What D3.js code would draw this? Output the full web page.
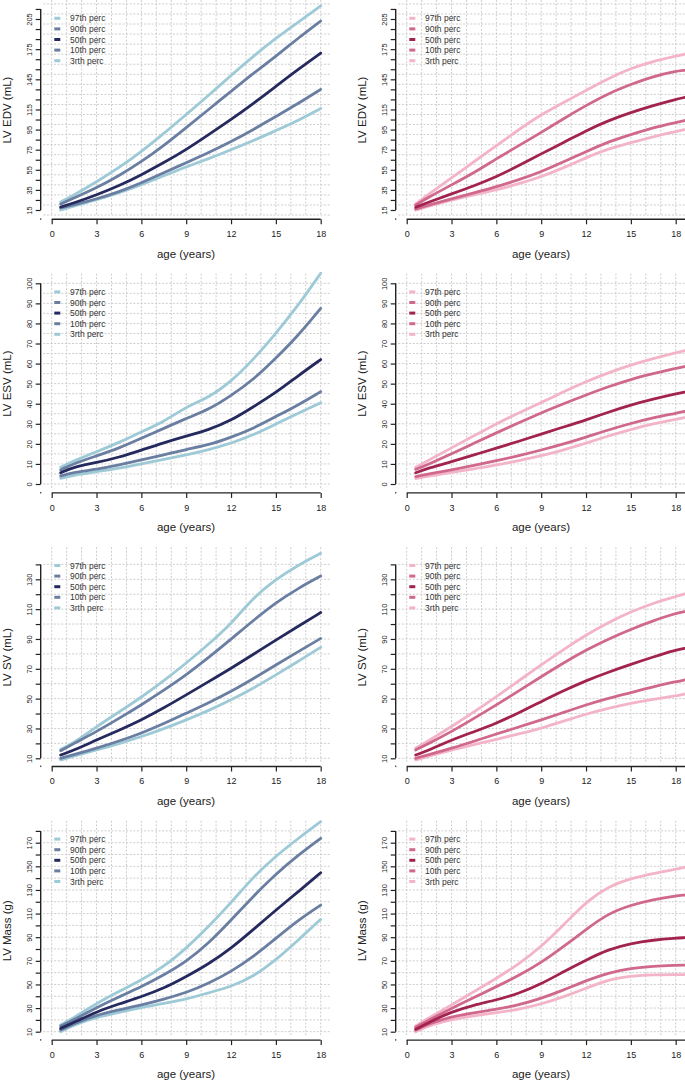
<!DOCTYPE html>
<html><head><meta charset="utf-8">
<script src="https://cdn.jsdelivr.net/npm/d3@7"></script>
<style>
html,body{margin:0;padding:0;background:#fff;}
svg{display:block;font-family:"Liberation Sans",Arial,Helvetica,sans-serif;}
</style></head>
<body>
<script>
// ---------------- DATA ----------------
const percLabels = ["97th perc", "90th perc", "50th perc", "10th perc", "3rth perc"];
const maleColors = ["#9dcad6", "#6a7ea2", "#252a5e", "#6a7ea2", "#9dcad6"];
const femaleColors = ["#f2b4c6", "#d0688e", "#a2234f", "#d0688e", "#f2b4c6"];

const agesM = [0.6, 1.5, 3, 4.5, 6, 7.5, 9, 10.5, 12, 13.5, 15, 16.5, 18];
const agesF = [0.6, 1.5, 3, 4.5, 6, 7.5, 9, 10.5, 12, 13.5, 15, 16.5, 18, 18.6];

// LV EDV (mL)
const edvM = [
  [23, 30, 43, 57, 73, 91, 110, 129, 149, 168, 186, 202, 218],
  [21, 27, 37, 49, 63, 79, 97, 115, 133, 151, 168, 186, 203],
  [18, 22, 30, 39, 50, 62, 75, 90, 105, 121, 138, 155, 171],
  [17, 20, 26, 33, 42, 52, 62, 72, 83, 95, 108, 121, 135],
  [15, 19, 25, 32, 40, 49, 58, 66, 75, 84, 94, 104, 116]
];
const edvF = [
  [21, 31, 47, 63, 79, 95, 110, 122, 134, 146, 156, 163, 168, 170],
  [20, 28, 40, 52, 66, 79, 92, 106, 119, 131, 140, 148, 153, 154],
  [17.7, 23, 31, 39, 48, 59, 71, 82, 94, 104, 112, 119, 125, 127],
  [16, 20, 26, 32, 38, 45, 53, 63, 73, 83, 90, 97, 102, 104],
  [15, 19, 25, 30, 35, 41, 48, 57, 67, 76, 82, 88, 93, 95]
];
// LV ESV (mL)
const esvM = [
  [8.3, 11.6, 16.1, 20.6, 26, 31, 38.5, 43, 51, 62, 75, 89, 105],
  [7, 10.3, 14, 17.8, 22.8, 27.7, 32.7, 37, 44, 52, 62.6, 74, 87.5],
  [5.6, 8.6, 10.6, 13.3, 16.9, 20.6, 23.9, 27, 31.6, 38.5, 45.5, 54, 62],
  [4, 5.8, 7.3, 9.5, 12, 14.5, 17.3, 19.4, 23.3, 27.7, 33.6, 39.4, 46],
  [2.8, 4.5, 6.1, 7.8, 10, 12.3, 14.5, 17, 20.3, 24.4, 29.9, 35.2, 40.5]
];
const esvF = [
  [8.3, 12, 18, 24, 30, 35.5, 40.5, 46, 51, 55.5, 59.3, 62.5, 65.4, 66.4],
  [7.3, 10, 15, 20.3, 25.5, 30.5, 35.5, 40, 44.4, 48.5, 52.2, 55, 57.6, 58.5],
  [5.6, 8, 11.1, 14.5, 17.8, 21.3, 24.9, 28.4, 31.9, 35.8, 39.4, 42.3, 44.9, 45.8],
  [3.7, 5, 7, 9.2, 11.6, 14.1, 16.9, 19.9, 23.3, 27, 30.2, 33, 35.2, 36.2],
  [2.7, 4, 5.8, 7.5, 9.5, 11.6, 14, 17, 20.3, 24, 27.2, 30, 32.2, 33.1]
];
// LV SV (mL)
const svM = [
  [16, 20.5, 31.2, 41, 50.9, 62, 73.7, 86.5, 100, 118, 130, 139.6, 147.4],
  [15.1, 20, 27.9, 36.7, 45.8, 55.6, 65.9, 77.5, 89.8, 102.5, 114.4, 124, 132.2],
  [12.2, 15.5, 22.3, 28.8, 35.7, 43.8, 52.5, 61.4, 70.3, 79.7, 89.3, 98.5, 107.7],
  [10, 12.5, 16.7, 21.5, 26.8, 33.2, 40.2, 47.2, 54.7, 63.4, 72.6, 81.5, 90.4],
  [8.9, 11.5, 15.6, 19.8, 24.5, 29.8, 35.7, 42, 49.1, 57, 65.9, 75, 84.4]
];
const svF = [
  [16.7, 22, 31.2, 41, 51.3, 62, 72.6, 83, 92.7, 101, 108.3, 114, 118.4, 120.2],
  [15.6, 20, 27.9, 36.7, 45.8, 55.2, 64.7, 74, 82.6, 90, 96.5, 102.2, 107.2, 108.3],
  [12.2, 15.5, 22.3, 27.8, 33.5, 40.5, 48, 55.3, 62.1, 67.8, 73, 78, 82.6, 83.7],
  [10, 12.5, 16.7, 21.4, 26.3, 31, 35.7, 40.8, 45.8, 50.3, 54, 58, 61.4, 62.5],
  [8.9, 11.5, 15.6, 19.1, 22.7, 26.3, 30.1, 34.9, 39.7, 43.5, 46.9, 49.5, 51.8, 53.1]
];
// LV Mass (g)
const massM = [
  [15.6, 22, 34, 44, 53.7, 65, 80.5, 98.9, 119.2, 141.2, 158.7, 173.7, 187.8],
  [14.8, 20, 30.6, 39.5, 48.1, 58, 69.3, 84.8, 104.5, 124.8, 143.5, 159.5, 173.7],
  [12.8, 18, 26.9, 33.5, 39.6, 46.7, 56.6, 67.3, 80.5, 96.6, 113, 128.5, 144.6],
  [11.4, 17, 24.1, 28.5, 32.6, 37.5, 43, 50.9, 60.8, 73.5, 89, 104.5, 117.2],
  [10, 16, 22.1, 26.5, 30.6, 34, 37.4, 43, 48.1, 56.6, 70.7, 87.6, 105.1]
];
const massF = [
  [14.8, 22, 32.6, 44, 55.1, 67.3, 82, 100.3, 120, 133, 139.8, 144, 147.4, 149.1],
  [13.7, 20, 29.8, 39, 48.1, 57.5, 68.4, 82, 96.6, 110.2, 117.2, 122, 124.8, 125.7],
  [12, 18, 26.9, 32.6, 36.8, 42.4, 50.4, 60.8, 70.7, 79.7, 84.8, 87.6, 89.3, 89.6],
  [11.4, 17, 22.7, 26, 28.9, 32.6, 38.2, 45.3, 53.2, 59.9, 63.6, 65.6, 66.2, 66.4],
  [10, 15.5, 20.4, 23.5, 26.1, 28.9, 33.4, 39.6, 46.7, 54.3, 57.1, 58.3, 58.3, 58.3]
];

const xTicks = [0, 3, 6, 9, 12, 15, 18];
const edvTickLabels = [15, 35, 55, 75, 95, 115, 145, 175, 205];
const esvTickLabels = [0, 10, 20, 30, 40, 50, 60, 70, 80, 90, 100];
const svTickLabels = [10, 30, 50, 70, 90, 110, 130];
const massTickLabels = [10, 30, 50, 70, 90, 110, 130, 150, 170];

const rowsDef = [
  {title: "LV EDV (mL)", dataM: edvM, dataF: edvF, labels: edvTickLabels, tickMin: 15, tickMax: 215, tickStep: 10, ref: [15, 205], refY: [210, 19], grid: 10},
  {title: "LV ESV (mL)", dataM: esvM, dataF: esvF, labels: esvTickLabels, tickMin: 0, tickMax: 100, tickStep: 10, ref: [0, 100], refY: [210.4, 9.7], grid: 5},
  {title: "LV SV (mL)", dataM: svM, dataF: svF, labels: svTickLabels, tickMin: 10, tickMax: 140, tickStep: 10, ref: [10, 130], refY: [211.1, 32.1], grid: 10},
  {title: "LV Mass (g)", dataM: massM, dataF: massF, labels: massTickLabels, tickMin: 10, tickMax: 180, tickStep: 10, ref: [10, 170], refY: [210.9, 21.9], grid: 10}
];

// ---------------- DRAW ----------------
const W = 685, H = 1088;
const svg = d3.select("body").append("svg").attr("width", W).attr("height", H);
svg.append("rect").attr("width", W).attr("height", H).attr("fill", "#fff");

const ROW_H = 273.6, COL_W = 355;

rowsDef.forEach((rd, r) => {
  [0, 1].forEach(c => {
    const T = r * ROW_H, O = c * COL_W;
    const ages = c === 0 ? agesM : agesF;
    const data = c === 0 ? rd.dataM : rd.dataF;
    const colors = c === 0 ? maleColors : femaleColors;
    const g = svg.append("g");

    const x = d3.scaleLinear().domain([0, 18]).range([51.7 + O, 320.7 + O]);
    const y = d3.scaleLinear().domain(rd.ref).range([T + rd.refY[0], T + rd.refY[1]]);
    const axisX = 40.7 + O;
    const baseY = T + 219.3;

    // grid
    const gridG = g.append("g").attr("stroke", "#cdcdcd").attr("stroke-width", 1)
      .attr("stroke-dasharray", "2,1.6").attr("fill", "none");
    const xGridEnd = c === 0 ? 330 + O : W;
    const years = d3.range(0, c === 0 ? 19 : 20);
    years.forEach(yr => {
      gridG.append("line").attr("x1", x(yr)).attr("x2", x(yr)).attr("y1", T).attr("y2", T + 215.5);
    });
    const vLo = y.invert(T + 216), vHi = y.invert(T + 3);
    const gvals = d3.range(Math.ceil(vLo / rd.grid) * rd.grid, vHi + 0.001, rd.grid);
    gvals.forEach(v => {
      gridG.append("line").attr("x1", 43.3 + O).attr("x2", xGridEnd).attr("y1", y(v)).attr("y2", y(v));
    });

    // curves
    const line = d3.line().x(d => x(d[0])).y(d => y(d[1])).curve(d3.curveBasis);
    const order = [0, 4, 1, 3, 2];
    order.forEach(i => {
      const pts = ages.map((a, k) => [a, data[i][k]]);
      g.append("path").attr("d", line(pts)).attr("fill", "none")
        .attr("stroke", colors[i]).attr("stroke-width", 2.8).attr("stroke-linecap", "round");
    });

    // y axis
    const yTicks = d3.range(rd.tickMin, rd.tickMax + 0.001, rd.tickStep);
    const yAxis = d3.axisLeft(y).tickValues(yTicks).tickSize(5).tickSizeOuter(0)
      .tickFormat(d => rd.labels.includes(d) ? String(d) : "");
    const ya = g.append("g").attr("transform", `translate(${axisX},0)`).call(yAxis);
    ya.select(".domain").remove();
    ya.selectAll(".tick line").attr("stroke", "#222").attr("stroke-width", 1.2);
    ya.selectAll(".tick text").attr("x", null).attr("dy", null)
      .attr("transform", "translate(-8.3,0) rotate(-90)")
      .attr("text-anchor", "middle").attr("font-size", 7.5).attr("fill", "#222")
      .attr("font-family", "Liberation Sans, Arial, sans-serif");
    g.append("line").attr("x1", axisX).attr("x2", axisX)
      .attr("y1", y(rd.tickMin)).attr("y2", y(rd.tickMax))
      .attr("stroke", "#222").attr("stroke-width", 1.4);
    // small stray tick mark near the corner
    g.append("rect").attr("x", axisX - 0.6).attr("y", baseY - 1).attr("width", 1.2).attr("height", 1.6).attr("fill", "#444");

    // x axis
    const xAxis = d3.axisBottom(x).tickValues(xTicks).tickSize(5).tickSizeOuter(0).tickFormat(d3.format("d"));
    const xa = g.append("g").attr("transform", `translate(0,${baseY})`).call(xAxis);
    xa.select(".domain").remove();
    xa.selectAll(".tick line").attr("stroke", "#222").attr("stroke-width", 1.2);
    xa.selectAll(".tick text").attr("y", 17.7).attr("dy", null).attr("font-size", 9)
      .attr("fill", "#222").attr("font-family", "Liberation Sans, Arial, sans-serif");
    g.append("line").attr("x1", x(0)).attr("x2", c === 0 ? x(18) : W)
      .attr("y1", baseY).attr("y2", baseY).attr("stroke", "#222").attr("stroke-width", 1.4);

    // axis titles
    g.append("text").attr("x", 186 + O).attr("y", T + 257.5).attr("text-anchor", "middle")
      .attr("font-size", 11.5).attr("fill", "#222").text("age (years)");
    g.append("text").attr("transform", `translate(${11.3 + O},${T + 110}) rotate(-90)`)
      .attr("text-anchor", "middle").attr("font-size", 11.5).attr("fill", "#222").text(rd.title);

    // legend
    percLabels.forEach((lab, i) => {
      const ly = T + 18.3 + i * 10.6;
      g.append("line").attr("x1", 54.3 + O).attr("x2", 60.3 + O).attr("y1", ly).attr("y2", ly)
        .attr("stroke", colors[i]).attr("stroke-width", 3);
      g.append("text").attr("x", 70 + O).attr("y", ly + 3).attr("font-size", 8.5)
        .attr("fill", "#333").text(lab);
    });
  });
});
</script>
</body></html>
